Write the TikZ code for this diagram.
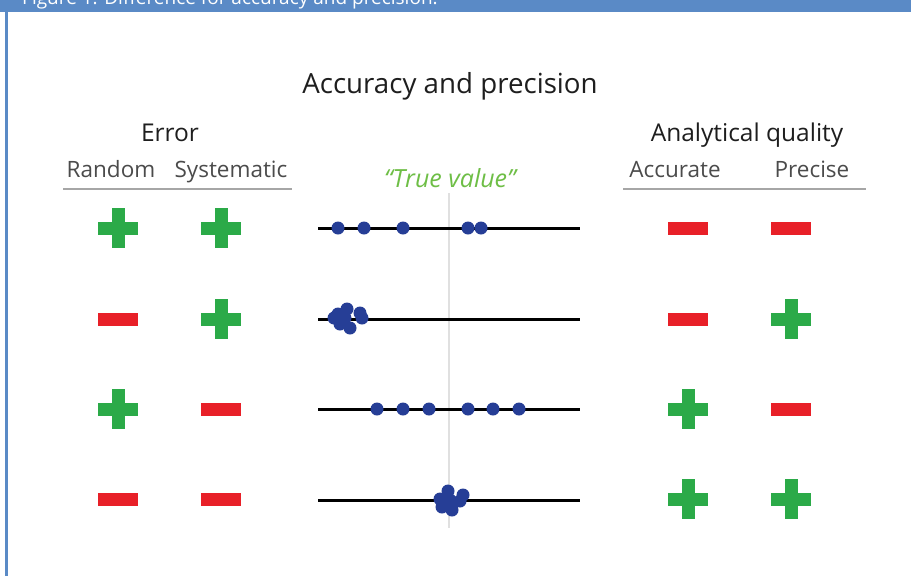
\documentclass[tikz,border=0pt]{standalone}
\usepackage{fontspec}
\setmainfont{Open Sans}
\definecolor{banner}{RGB}{90,138,198}
\definecolor{pgreen}{RGB}{43,170,72}
\definecolor{pred}{RGB}{232,32,40}
\definecolor{dotblue}{RGB}{38,62,150}
\definecolor{tvgreen}{RGB}{110,190,70}
\definecolor{txt}{RGB}{30,30,30}
\tikzset{
  plussign/.pic={\fill[pgreen] (-20,-6.5) rectangle (20,6.5); \fill[pgreen] (-6.5,-20) rectangle (6.5,20);},
  minussign/.pic={\fill[pred] (-20,-6.5) rectangle (20,6.5);},
  dot/.style={fill=dotblue},
  axisline/.style={line width=3pt,black},
  rule/.style={line width=1.5pt,gray!70},
  head/.style={anchor=base,inner sep=0,text=txt,font=\fontsize{24.5}{24.5}\selectfont},
  sub/.style={anchor=base,inner sep=0,text=txt!80,font=\fontsize{22.5}{22.5}\selectfont},
}
\begin{document}
\begin{tikzpicture}[x=1pt,y=-1pt]
\useasboundingbox (0,0) rectangle (911,576);
\fill[white] (0,0) rectangle (911,576);
\fill[banner] (0,0) rectangle (911,12);
\begin{scope}
\clip (0,0) rectangle (911,12);
\node[anchor=base west,inner sep=0,text=white,font=\fontsize{19}{19}\selectfont] (bannertext) at (22,4) {Figure 1: Difference for accuracy and precision.};
\end{scope}
\fill[banner] (5,12) rectangle (8,576);

\node[anchor=base,inner sep=0,text=txt,font=\fontsize{27.7}{27.7}\selectfont] (title) at (450,93) {Accuracy and precision};
\node[head] (error) at (170,141) {Error};
\node[sub] (random) at (111,177) {Random};
\node[sub] (system) at (231,177) {Systematic};
\node[head] (aq) at (747,141) {Analytical quality};
\node[sub] (accurate) at (675,177) {Accurate};
\node[sub] (precise) at (812,177) {Precise};
\node[anchor=base,inner sep=0,text=tvgreen,font=\fontsize{25}{25}\selectfont\itshape] (tv) at (450,187) {``True value''};

\draw[rule] (63,189) -- (292,189);
\draw[rule] (623,189) -- (866,189);

\draw[line width=1.5pt,black!12] (449,193) -- (449,528);

\foreach \y in {228,319,409,500} \draw[axisline] (318,\y) -- (580,\y);

% row 1 dots
\foreach \x in {338,364,403,468,481} \fill[dot] (\x,228) circle (6.5);
% row 2 cluster
\foreach \x/\y in {334/318,347/309,360/313,350/328,340/324,362/318,338/314,345/318} \fill[dot] (\x,\y) circle (6.5);
% row 3 dots
\foreach \x in {377,403,429,468,493,519} \fill[dot] (\x,409) circle (6.5);
% row 4 cluster
\foreach \x/\y in {448/491,440/499,463/495,442/507,452/510,460/501,450/500} \fill[dot] (\x,\y) circle (6.5);

% symbols
\pic at (118,228) {plussign};
\pic at (221,228) {plussign};
\pic at (688,228) {minussign};
\pic at (791,228) {minussign};

\pic at (118,319) {minussign};
\pic at (221,319) {plussign};
\pic at (688,319) {minussign};
\pic at (791,319) {plussign};

\pic at (118,409) {plussign};
\pic at (221,409) {minussign};
\pic at (688,409) {plussign};
\pic at (791,409) {minussign};

\pic at (118,499) {minussign};
\pic at (221,499) {minussign};
\pic at (688,499) {plussign};
\pic at (791,499) {plussign};
\end{tikzpicture}
\end{document}
